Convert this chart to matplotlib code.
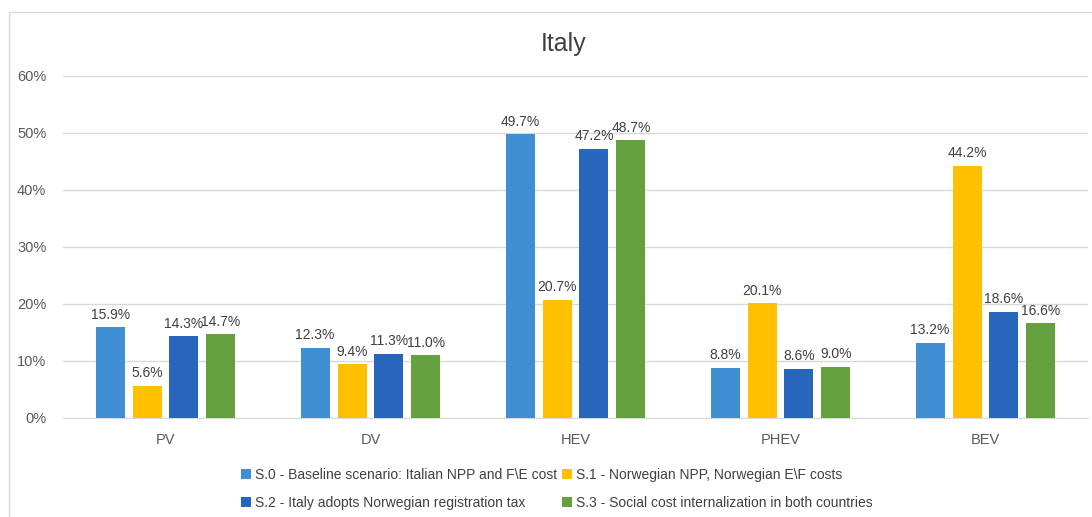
#!/usr/bin/env python3
#coding=utf8
import matplotlib
matplotlib.use('Agg')
import matplotlib.pyplot as plt
from matplotlib.patches import Rectangle
from matplotlib.ticker import PercentFormatter
import numpy as np

plt.rcParams['font.family'] = ['Liberation Sans', 'DejaVu Sans']

categories = ['PV', 'DV', 'HEV', 'PHEV', 'BEV']
series_names = ['S.0 - Baseline scenario: Italian NPP and F\\E cost',
                'S.1 - Norwegian NPP, Norwegian E\\F costs',
                'S.2 - Italy adopts Norwegian registration tax',
                'S.3 - Social cost internalization in both countries']
s0 = [15.9, 12.3, 49.7, 8.8, 13.2]
s1 = [5.6, 9.4, 20.7, 20.1, 44.2]
s2 = [14.3, 11.3, 47.2, 8.6, 18.6]
s3 = [14.7, 11.0, 48.7, 9.0, 16.6]
colors = ['#3F8FD2', '#FFC000', '#2866BE', '#65A03F']

fig = plt.figure(figsize=(10.92, 5.17), dpi=100)
ax = fig.add_axes([0.0577, 0.1915, 0.9386, 0.6621])

# chart frame
fig.patches.append(Rectangle((9 / 1092, -0.1), 1.2, 1.1 - 12 / 517, transform=fig.transFigure,
                             fill=False, edgecolor='#D9D9D9', linewidth=1))

x = np.arange(len(categories))
w = 0.1415
step = 0.18
handles = []
for i, (vals, c) in enumerate(zip([s0, s1, s2, s3], colors)):
    pos = x + (i - 1.5) * step
    bars = ax.bar(pos, vals, width=w, color=c, label=series_names[i], zorder=3)
    handles.append(bars)
    for b, v in zip(bars, vals):
        ax.annotate('%.1f%%' % v, (b.get_x() + b.get_width() / 2, v), xytext=(0, 4),
                    textcoords='offset points', ha='center', va='bottom',
                    fontsize=10, color='#404040')

ax.set_xlim(-0.5, 4.5)
ax.set_ylim(0, 60)
ax.set_yticks(range(0, 61, 10))
ax.yaxis.set_major_formatter(PercentFormatter(decimals=0))
ax.set_xticks(x)
ax.set_xticklabels(categories)
ax.tick_params(axis='both', length=0, labelsize=10.5, colors='#595959')
ax.tick_params(axis='x', pad=11)
ax.tick_params(axis='y', pad=12)
ax.grid(axis='y', color='#D9D9D9', linewidth=1, zorder=0)
for s in ['top', 'right', 'left']:
    ax.spines[s].set_visible(False)
ax.spines['bottom'].set_color('#D9D9D9')

fig.text(0.516, 0.915, 'Italy', ha='center', va='center', fontsize=18, color='#404040')

# legend fills columns first, so reorder to get S.0 S.1 / S.2 S.3 rows
order = [0, 2, 1, 3]
fig.legend([handles[k] for k in order], [series_names[k] for k in order],
           loc='lower center', bbox_to_anchor=(0.51, -0.01), ncol=2, frameon=False,
           fontsize=10, handlelength=0.7, handleheight=0.7, handletextpad=0.3,
           columnspacing=0.4, labelcolor='#404040', labelspacing=1.0)

fig.savefig('out.png', dpi=100)
